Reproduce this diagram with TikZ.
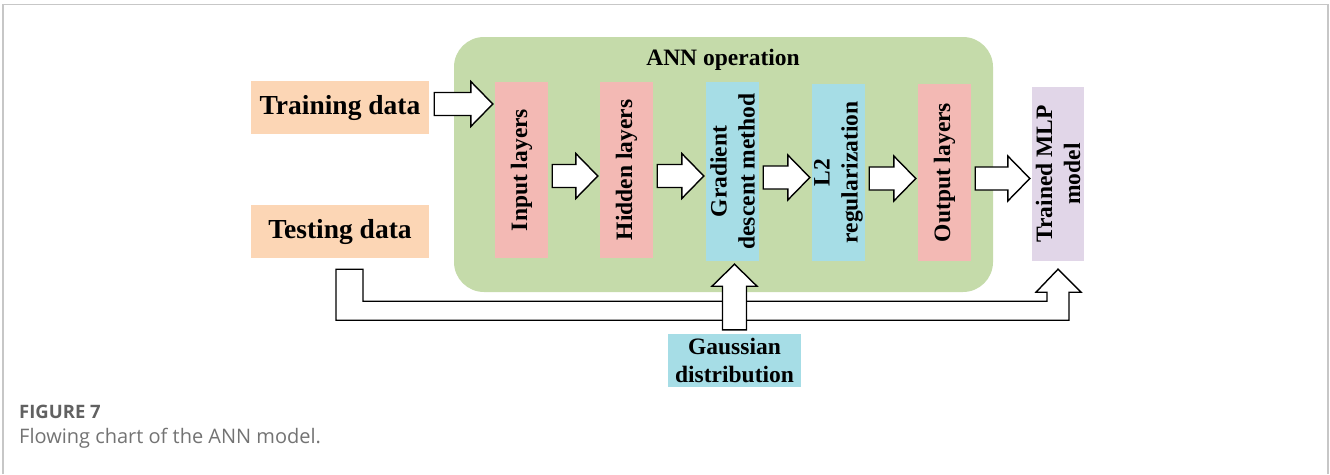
\documentclass[tikz,border=0pt]{standalone}
\usepackage{fontspec}
\setmainfont{Liberation Serif}
\newfontfamily\capfont{Open Sans}
\usetikzlibrary{calc}
\definecolor{anngreen}{RGB}{197,219,170}
\definecolor{datapeach}{RGB}{252,214,181}
\definecolor{layerpink}{RGB}{243,185,180}
\definecolor{methodblue}{RGB}{166,221,230}
\definecolor{modellilac}{RGB}{225,214,232}
\tikzset{
  box/.style={inner sep=0pt, align=center, font=\bfseries\fontsize{23.5}{28}\selectfont},
  vbox/.style={box, rotate=90, minimum height=53pt},
  databox/.style={box, fill=datapeach, minimum width=178pt, minimum height=53pt,
    font=\bfseries\fontsize{27.5}{32}\selectfont},
  fat/.style={draw=black, fill=white, line width=1.4pt, line join=miter},
}
% horizontal block arrow, y taken from the start point
\newcommand{\fatarrow}[2]{%
  \draw[fat] let \p1=(#1), \p2=(#2) in
    (\x1,\y1+11.5pt) -- (\x2-22pt,\y1+11.5pt) -- (\x2-22pt,\y1+22.5pt) -- (\x2,\y1)
    -- (\x2-22pt,\y1-22.5pt) -- (\x2-22pt,\y1-11.5pt) -- (\x1,\y1-11.5pt) -- cycle;}
% vertical block arrow, x taken from the start point
\newcommand{\fatup}[2]{%
  \draw[fat] let \p1=(#1), \p2=(#2) in
    (\x1-12pt,\y1) -- (\x1-12pt,\y2-22pt) -- (\x1-22.5pt,\y2-22pt) -- (\x1,\y2)
    -- (\x1+22.5pt,\y2-22pt) -- (\x1+12pt,\y2-22pt) -- (\x1+12pt,\y1) -- cycle;}
\begin{document}
\begin{tikzpicture}[x=1pt,y=-1pt]
\useasboundingbox (0,0) rectangle (1330,474);
\draw[black!22,line width=1.5pt] (3,474) -- (3,4.5) -- (1328,4.5) -- (1328,474);

% ANN block
\node[fill=anngreen, rounded corners=30pt, minimum width=539pt, minimum height=255pt] (ann) at (723.5,164.5) {};
\node[anchor=base, font=\bfseries\fontsize{23.5}{28}\selectfont] (title) at (723,65) {ANN operation};

\node[databox] (train) at (340,107.5) {Training data};
\node[databox] (test) at (340,231.5) {Testing data};

% rotated boxes: north = left side, south = right side, west = bottom
\node[vbox, fill=layerpink, minimum width=176pt] (inp) at (521.5,170) {Input layers};
\node[vbox, fill=layerpink, minimum width=176pt] (hid) at (626.5,170) {Hidden layers};
\node[vbox, fill=methodblue, minimum width=179pt] (gd) at (732.5,171.5) {Gradient\\descent method};
\node[vbox, fill=methodblue, minimum width=177pt] (l2) at (838.5,172.5) {L2\\regularization};
\node[vbox, fill=layerpink, minimum width=177pt] (out) at (944.5,172.5) {Output layers};
\node[vbox, fill=modellilac, minimum width=174pt, minimum height=52pt] (mlp) at (1058,174) {Trained MLP\\model};
\node[box, fill=methodblue, minimum width=133pt, minimum height=53pt] (gauss) at (734.5,360.5) {Gaussian\\distribution};

% arrows
\fatarrow{[xshift=5pt,yshift=3.5pt]train.east}{[xshift=-2pt]inp.north}
\foreach \a/\b in {inp/hid,hid/gd,gd/l2,l2/out,out/mlp}
  {\fatarrow{[xshift=4pt,yshift=-6pt]\a.south}{[xshift=-2pt]\b.north}}

\draw[fat] let \p1=(test.south), \p2=(mlp.west) in
  (\x1-4pt,\y1-11pt) -- (\x1-4pt,\y1-62pt) -- (\x2+11pt,\y1-62pt) -- (\x2+11pt,\y2-31pt)
  -- (\x2+23pt,\y2-31pt) -- (\x2,\y2-8pt) -- (\x2-22pt,\y2-31pt) -- (\x2-11pt,\y2-31pt)
  -- (\x2-11pt,\y1-43pt) -- (\x1+23pt,\y1-43pt) -- (\x1+23pt,\y1-11pt) -- cycle;
\fatup{[yshift=4pt]gauss.north}{[yshift=-3pt]gd.west}

% caption
\node[anchor=base west, inner sep=0pt, text=black!62, font=\capfont\bfseries\fontsize{18.5}{21}\selectfont] (fig) at (19,418) {FIGURE 7};
\node[anchor=base west, inner sep=0pt, text=black!55, font=\capfont\fontsize{20}{24}\selectfont] (cap) at (19,443) {Flowing chart of the ANN model.};
\end{tikzpicture}
\end{document}
